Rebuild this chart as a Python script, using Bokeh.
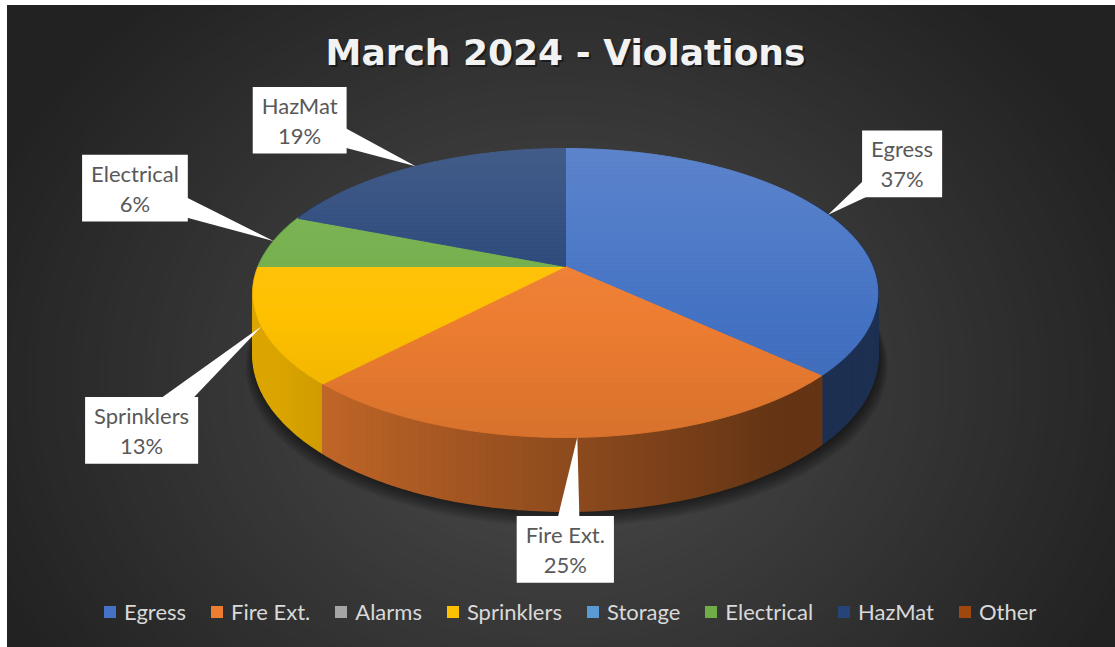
import numpy as np
from bokeh.plotting import figure
from bokeh.models import Range1d, Legend, LegendItem
from bokeh.core.properties import value
from bokeh.embed import file_html
from bokeh.resources import INLINE

# ---------------- data ----------------
categories = ["Egress", "Fire Ext.", "Alarms", "Sprinklers", "Storage", "Electrical", "HazMat", "Other"]
counts = [37, 25, 0, 13, 0, 6, 19, 0]
colors = ["#4472C4", "#ED7D31", "#A5A5A5", "#FFC000", "#5B9BD5", "#70AD47", "#264478", "#9E480E"]
title_text = "March 2024 - Violations"

# ---------------- layout (positions / styles only) ----------------
label_offsets = {"Egress": (74, -51), "Fire Ext.": (-12, 112), "Sprinklers": (-120, 104),
                 "Electrical": (-139, -53), "HazMat": (-116, -46)}
CX, CY = 565.0, 266.0      # pie centre on screen
W, B, C, H = 307.0, 139.6, 0.1834, 60.0   # half width, depth scale, perspective, thickness


def hex2rgb(h):
    h = h.lstrip("#")
    return np.array([int(h[i:i + 2], 16) for i in (0, 2, 4)], dtype=float)


def rgb2hex(c):
    c = np.clip(np.round(c), 0, 255).astype(int)
    return "#%02x%02x%02x" % tuple(c)


def proj(theta, z):
    u = np.sin(theta)
    v = np.cos(theta)
    s = 1.0 / (1.0 + C * v)
    return CX + W * u * s, CY - B * v * s + H * z * s


def intersect(p, c, yb):
    t = (yb - p[1]) / (c[1] - p[1])
    return (p[0] + t * (c[0] - p[0]), yb)


def clip_poly(pts, yb, above):
    out = []
    n = len(pts)
    for i in range(n):
        cur, prev = pts[i], pts[i - 1]
        cin = cur[1] >= yb if above else cur[1] <= yb
        pin = prev[1] >= yb if above else prev[1] <= yb
        if cin:
            if not pin:
                out.append(intersect(prev, cur, yb))
            out.append(cur)
        elif pin:
            out.append(intersect(prev, cur, yb))
    return out


p = figure(width=1115, height=647, output_backend="svg", toolbar_location=None,
           x_range=Range1d(7, 1115), y_range=Range1d(647, 5),
           x_axis_location=None, y_axis_location=None,
           min_border_left=7, min_border_top=5, min_border_right=0, min_border_bottom=0,
           background_fill_color="#222222", border_fill_color="#ffffff", outline_line_color=None)
p.grid.visible = False

# ---------------- background radial gradient ----------------
ts = np.linspace(1.3, 0.0, 90)
inner, outer = 0x4d, 0x22
bg_cols = [rgb2hex(np.array([1, 1, 1]) * (inner + (outer - inner) * min(t, 1.0))) for t in ts]
p.ellipse(x=[560] * len(ts), y=[380] * len(ts), width=list(2 * 620 * ts), height=list(2 * 520 * ts),
          fill_color=bg_cols, line_color=None)

# ---------------- slice angles ----------------
total = float(sum(counts))
fracs = [c / total for c in counts]
starts = np.cumsum([0] + fracs[:-1]) * 2 * np.pi
ends = starts + np.array(fracs) * 2 * np.pi

# ---------------- shadow ----------------
th = np.linspace(0, 2 * np.pi, 361)
bx, by = proj(th, 1.0)
bcx, bcy = CX, CY + H
sx_list, sy_list = [], []
for i in range(8):
    e = 1.0 + 0.004 * i
    sx_list.append(list(bcx + (bx - bcx) * e + 1.0))
    sy_list.append(list(bcy + (by - bcy) * e + 2.0 + 1.2 * i))
p.patches(xs=sx_list, ys=sy_list, fill_color="black", fill_alpha=0.08, line_color=None)

# ---------------- side walls ----------------
quads = []
for i, cat in enumerate(categories):
    if counts[i] <= 0:
        continue
    base = hex2rgb(colors[i])
    a0, a1 = starts[i], ends[i]
    n = max(2, int(np.degrees(a1 - a0)) + 1)
    tt = np.linspace(a0, a1, n)
    for k in range(n - 1):
        t0, t1 = tt[k], tt[k + 1]
        tm = 0.5 * (t0 + t1)
        if np.cos(tm) > 0.5:
            continue
        x0, y0 = proj(t0, 0)
        x1, y1 = proj(t1, 0)
        x2, y2 = proj(t1, 1)
        x3, y3 = proj(t0, 1)
        f = float(np.clip(0.6 - 0.31 * np.sin(tm), 0.42, 0.86))
        quads.append((np.cos(tm), [x0, x1, x2, x3], [y0, y1, y2, y3], rgb2hex(base * f)))
quads.sort(key=lambda q: -q[0])
p.patches(xs=[q[1] for q in quads], ys=[q[2] for q in quads],
          fill_color=[q[3] for q in quads], line_color=[q[3] for q in quads], line_width=2)

# ---------------- top faces with vertical gradient ----------------
ytop, ybot = CY - B / (1 + C), CY + B / (1 - C)
bxs, bys, bcs = [], [], []
edges = np.arange(ytop - 2, ybot + 4, 4)
for i, cat in enumerate(categories):
    if counts[i] <= 0:
        continue
    base = hex2rgb(colors[i])
    a0, a1 = starts[i], ends[i]
    n = max(2, int(np.degrees(a1 - a0)) + 1)
    tt = np.linspace(a0, a1, n)
    ax, ay = proj(tt, 0)
    pts = [(CX, CY)] + list(zip(ax, ay))
    for k in range(len(edges) - 1):
        y0, y1 = edges[k], edges[k + 1]
        poly = clip_poly(clip_poly(pts, y0, True), y1, False)
        if len(poly) < 3:
            continue
        t = ((y0 + y1) / 2 - ytop) / (ybot - ytop)
        g = 0.13 - 0.22 * t
        col = base + (255 - base) * g if g > 0 else base * (1 + g)
        hc = rgb2hex(col)
        bxs.append([q[0] for q in poly])
        bys.append([q[1] for q in poly])
        bcs.append(hc)
p.patches(xs=bxs, ys=bys, fill_color=bcs, line_color=bcs, line_width=1)

# ---------------- data labels with callout wedges ----------------
wx, wy, lx, ly, lt = [], [], [], [], []
for i, cat in enumerate(categories):
    if counts[i] <= 0:
        continue
    mid = 0.5 * (starts[i] + ends[i])
    tx, ty = proj(mid, 0)
    ox, oy = label_offsets[cat]
    cxl, cyl = tx + ox, ty + oy
    d = np.array([tx - cxl, ty - cyl])
    d /= np.linalg.norm(d)
    nrm = np.array([-d[1], d[0]])
    wx.append([tx, cxl + nrm[0] * 15, cxl - nrm[0] * 15])
    wy.append([ty, cyl + nrm[1] * 15, cyl - nrm[1] * 15])
    lx.append(cxl)
    ly.append(cyl)
    lt.append("%s\n%d%%" % (cat, round(counts[i] / total * 100)))
p.patches(xs=wx, ys=wy, fill_color="white", line_color=None)
p.text(x=lx, y=ly, text=lt, text_align="center", text_baseline="middle",
       text_font=value("Lato"), text_font_size="22px", text_color="#595959",
       text_line_height=1.1, background_fill_color="white",
       padding=dict(left=9, right=9, top=5, bottom=5))

# ---------------- title ----------------
p.text(x=[567], y=[54], text=[title_text], text_align="center", text_baseline="middle",
       text_font=value("DejaVu Sans"), text_font_style="bold", text_font_size="36px",
       text_color="black", text_alpha=0.45)
p.text(x=[565], y=[52], text=[title_text], text_align="center", text_baseline="middle",
       text_font=value("DejaVu Sans"), text_font_style="bold", text_font_size="36px",
       text_color="#f2f2f2")

# ---------------- legend ----------------
items = []
for cat, col in zip(categories, colors):
    r = p.quad(left=[np.nan], right=[np.nan], top=[np.nan], bottom=[np.nan],
               fill_color=col, line_color=None)
    items.append(LegendItem(label=cat, renderers=[r]))
legend = Legend(items=items, orientation="horizontal", location=(95, 22),
                background_fill_alpha=0, border_line_alpha=0,
                label_text_color="#d9d9d9", label_text_font="Lato", label_text_font_size="22px",
                glyph_width=15, glyph_height=15, label_standoff=7, spacing=23, padding=0, margin=0)
p.add_layout(legend)

open("out.html", "w").write(file_html(p, INLINE))
